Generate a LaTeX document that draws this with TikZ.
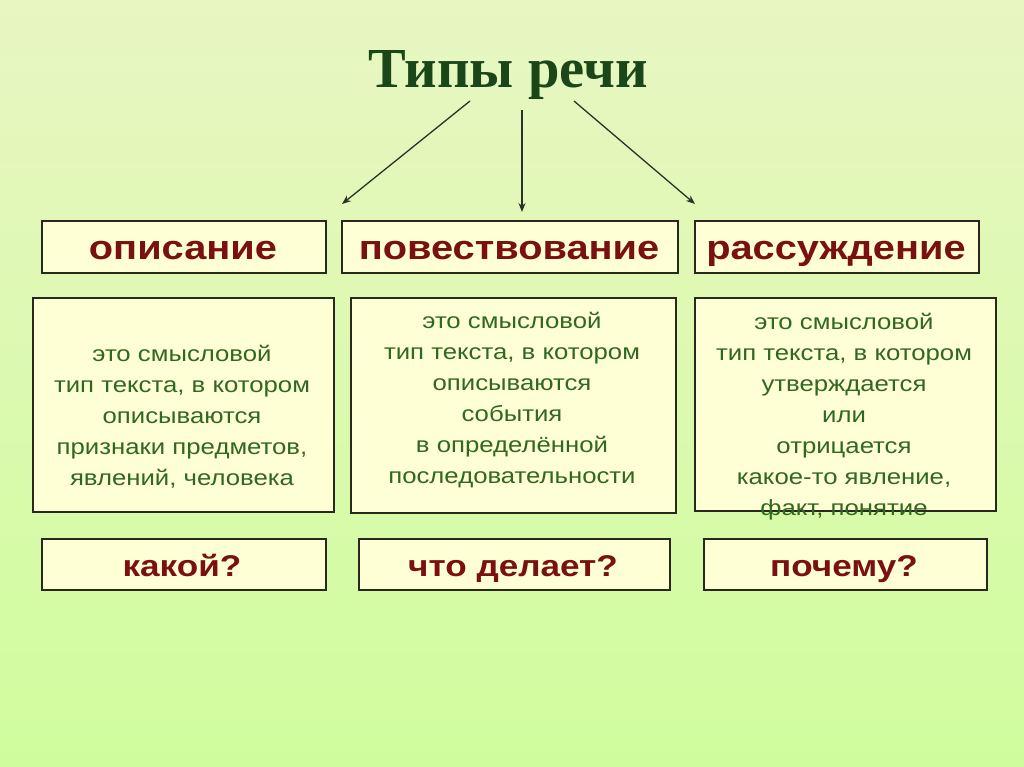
\documentclass[tikz,border=0pt]{standalone}
\usepackage{fontspec}
\setmainfont{Liberation Sans}
\newfontfamily\titlefont{Liberation Serif}
\newfontfamily\widesans[FakeStretch=1.17]{Liberation Sans}
\usetikzlibrary{arrows.meta}
\definecolor{bgtop}{RGB}{232,246,194}
\definecolor{bgmid}{RGB}{226,252,178}
\definecolor{bgbot}{RGB}{207,253,157}
\definecolor{boxfill}{RGB}{255,255,214}
\definecolor{boxline}{RGB}{40,40,30}
\definecolor{headred}{RGB}{122,16,16}
\definecolor{bodygreen}{RGB}{48,104,34}
\definecolor{titlegreen}{RGB}{26,70,26}
\definecolor{arrowcol}{RGB}{45,50,40}
\tikzset{
  box/.style={draw=boxline, line width=1.6pt, fill=boxfill, inner sep=0pt, anchor=north west},
  headtext/.style={text=headred, anchor=base, inner sep=0pt, font=\widesans\fontsize{34}{36}\selectfont\bfseries},
  asktext/.style={text=headred, anchor=base, inner sep=0pt, font=\widesans\fontsize{30}{34}\selectfont\bfseries},
  bodytext/.style={text=bodygreen, align=center, font=\widesans\fontsize{22}{31}\selectfont},
  conn/.style={draw=arrowcol, line width=1.3pt, -{Stealth[length=9pt,width=7pt]}}
}
\begin{document}
\begin{tikzpicture}[x=1pt,y=-1pt]
\shade[top color=bgtop, middle color=bgmid, bottom color=bgbot] (0,0) rectangle (1024,767);
\useasboundingbox (0,0) rectangle (1024,767);

\node[text=titlegreen, anchor=base, inner sep=0pt, font=\titlefont\fontsize{56.5}{60}\selectfont\bfseries] (title) at (508,88) {Типы речи};

% header boxes
\node[box, minimum width=284pt, minimum height=52pt] (hA) at (41,220) {};
\node[box, minimum width=336pt, minimum height=52pt] (hB) at (341,220) {};
\node[box, minimum width=284pt, minimum height=52pt] (hC) at (694,220) {};
\node[headtext] (tA) at (183,259) {описание};
\node[headtext] (tB) at (509,259) {повествование};
\node[headtext] (tC) at (836,259) {рассуждение};

% body boxes
\node[box, minimum width=301pt, minimum height=214pt] (bA) at (32,297) {};
\node[box, minimum width=325pt, minimum height=215pt] (bB) at (350,297) {};
\node[box, minimum width=301pt, minimum height=213pt] (bC) at (694,297) {};
\node[bodytext] (dA) at (182,417) {это смысловой\\тип текста, в котором\\описываются\\признаки предметов,\\явлений, человека};
\node[bodytext] (dB) at (512,400) {это смысловой\\тип текста, в котором\\описываются\\события\\в определённой\\последовательности};
\node[bodytext] (dC) at (844,417) {это смысловой\\тип текста, в котором\\утверждается\\или\\отрицается\\какое-то явление,\\факт, понятие};

% question boxes
\node[box, minimum width=284pt, minimum height=51pt] (qA) at (41,538) {};
\node[box, minimum width=311pt, minimum height=51pt] (qB) at (358,538) {};
\node[box, minimum width=283pt, minimum height=51pt] (qC) at (703,538) {};
\node[asktext] (aA) at (182,576) {какой?};
\node[asktext] (aB) at (513,576) {что делает?};
\node[asktext] (aC) at (844,576) {почему?};

% arrows
\coordinate (s1) at (470,101);
\coordinate (s2) at (522,110);
\coordinate (s3) at (574,101);
\coordinate (e1) at (342,204);
\coordinate (e2) at (522,212);
\coordinate (e3) at (695,204);
\draw[conn] (s1) -- (e1);
\draw[conn] (s2) -- (e2);
\draw[conn] (s3) -- (e3);
\end{tikzpicture}
\end{document}
